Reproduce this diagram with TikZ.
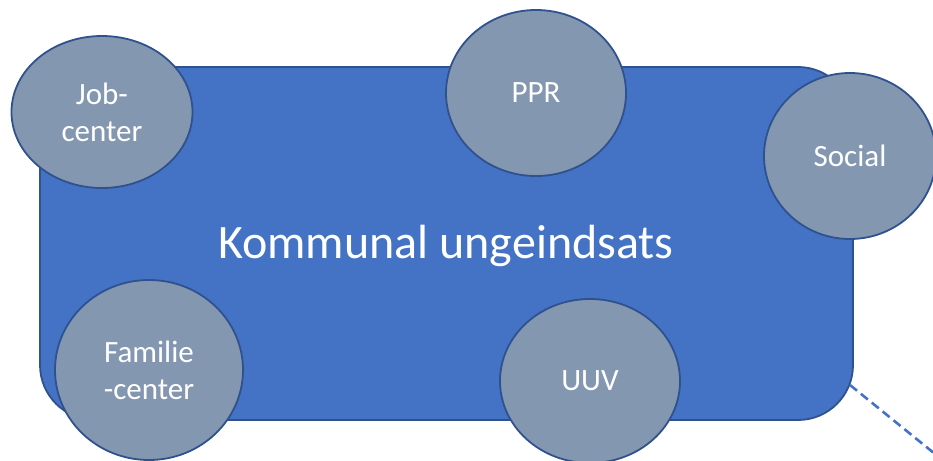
\documentclass[tikz,border=0pt]{standalone}
\usepackage{fontspec}
\setmainfont{Carlito}
\usetikzlibrary{shapes.geometric}
\definecolor{BoxBlue}{HTML}{4472C4}
\definecolor{EdgeBlue}{HTML}{2F528F}
\definecolor{UnitGray}{HTML}{8497B0}

\begin{document}
\begin{tikzpicture}[x=1pt,y=-1pt,
unit/.style={ellipse,draw=EdgeBlue,line width=1.8pt,fill=UnitGray,
  inner sep=0pt,text=white,align=center,
  font=\fontsize{31}{37}\selectfont}
]
\useasboundingbox (0,0) rectangle (933,460);
%main box
\draw[rounded corners=55pt,draw=EdgeBlue,line width=1.8pt,fill=BoxBlue]
  (40,67) rectangle (853,420);
\node[text=white,font=\fontsize{48}{56}\selectfont] (Kommune) at (446,246)
  {Kommunal ungeindsats};
%dashed lead-out
\coordinate (BoxCorner) at (850,385);
\coordinate (LeadEnd) at (940,458);
\draw[BoxBlue,line width=2.6pt,dash pattern=on 9pt off 5pt] (BoxCorner) -- (LeadEnd);
%units
\node[unit,minimum width=181pt,minimum height=152pt] (Jobcenter) at (102,112) {Job-\\center};
\node[unit,minimum width=180pt,minimum height=166pt] (PPR) at (536,93) {PPR};
\node[unit,minimum width=172pt,minimum height=166pt] (Social) at (850,156) {Social};
\node[unit,minimum width=188pt,minimum height=180pt] (Familiecenter) at (149,370) {Familie\\-center};
\node[unit,minimum width=180pt,minimum height=164pt] (UUV) at (590,381) {UUV};
\end{tikzpicture}
\end{document}
